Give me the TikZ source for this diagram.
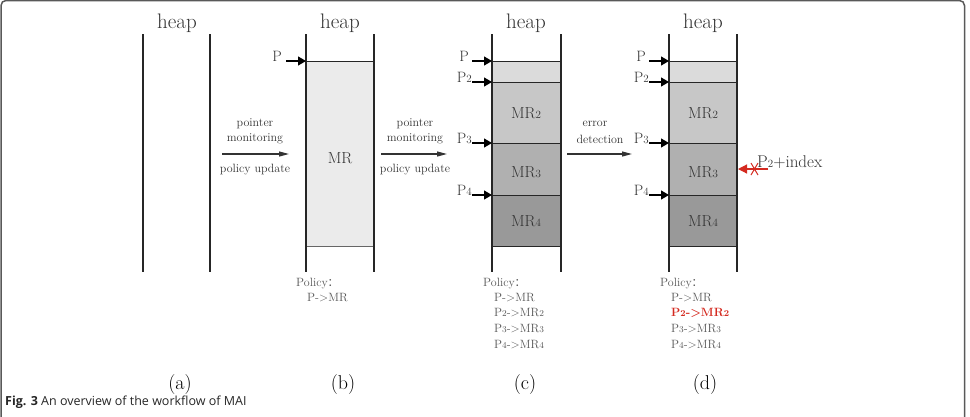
\documentclass[tikz,border=0pt]{standalone}
\usepackage{fontspec}
\setsansfont{Open Sans}
\newfontfamily\cjk{Noto Sans CJK SC}
\usetikzlibrary{arrows.meta}
\definecolor{txt}{HTML}{333333}
\definecolor{pol}{HTML}{555555}
\definecolor{redc}{HTML}{D42A20}
\newcommand{\sbn}[1]{{\fontsize{9}{9}\selectfont #1}}
\newcommand{\sbm}[1]{{\fontsize{11}{11}\selectfont #1}}
\newcommand{\fwcolon}{{\cjk\fontsize{11}{11}\selectfont ：}}
\begin{document}
\begin{tikzpicture}[x=1pt,y=-1pt,
  wall/.style={line width=1.2pt, draw=black!85},
  ptr/.style={line width=1.2pt, draw=black, -{Triangle[length=8pt,width=9pt]}},
  trans/.style={line width=1.2pt, draw=black!80, -{Triangle[length=10pt,width=5pt]}},
  heaplbl/.style={font=\fontsize{21}{21}\selectfont, text=txt, anchor=base},
  small/.style={font=\fontsize{12}{12}\selectfont, text=txt},
  plbl/.style={font=\fontsize{15}{15}\selectfont, text=txt, anchor=base east, inner sep=0pt},
  mrlbl/.style={font=\fontsize{16}{16}\selectfont, text=txt},
  cell/.style={draw=black!85, line width=0.9pt},
  policy/.style={font=\fontsize{12}{15.7}\selectfont, text=pol, align=left, anchor=north west, inner sep=0pt},
  sublbl/.style={font=\fontsize{20}{20}\selectfont, text=black, anchor=base},
]
\useasboundingbox (0,0) rectangle (970,416);
\draw[draw=black!65, line width=1.5pt, rounded corners=5pt] (1,0.5) rectangle (964.5,440);

% ---------- (a)
\node[heaplbl] (ha) at (177,28) {heap};
\draw[wall] (143,34) -- (143,272);
\draw[wall] (210,34) -- (210,272);
\node[sublbl] (la) at (180,389) {(a)};

% ---------- (b)
\node[heaplbl] (hb) at (340,28) {heap};
\fill[black!8] (306,61) rectangle (374,246);
\draw[cell, draw=black!60] (306,246) -- (374,246);
\draw[cell] (306,61) -- (374,61);
\draw[wall] (306,34) -- (306,272);
\draw[wall] (374,34) -- (374,272);
\node[mrlbl] (mrb) at (340,158) {MR};
\coordinate (pbs) at (286,61);
\draw[ptr] (pbs) -- (306,61);
\node[plbl] (pb) at ([xshift=-4pt]pbs) {P};
\node[policy] (polb) at (296,278) {Policy\fwcolon\\[-1pt]\hspace*{11pt}P->MR};
\node[sublbl] (lb) at (343,389) {(b)};

% transition a->b
\coordinate (t1s) at (222,154);
\coordinate (t1e) at (289,154);
\draw[trans] (t1s) -- (t1e);
\node[small] (t1a) at (255,124) {pointer};
\node[small] (t1b) at (255,139) {monitoring};
\node[small] (t1c) at (255,170) {policy update};

% ---------- (c)
\node[heaplbl] (hc) at (526,28) {heap};
\filldraw[cell, fill=black!14] (492,61) rectangle (561,82);
\filldraw[cell, fill=black!22] (492,82) rectangle (561,143);
\filldraw[cell, fill=black!31] (492,143) rectangle (561,195);
\filldraw[cell, fill=black!40] (492,195) rectangle (561,246);
\draw[wall] (492,34) -- (492,272);
\draw[wall] (561,34) -- (561,272);
\node[mrlbl] (mrc2) at (526,113) {MR\sbm{2}};
\node[mrlbl] (mrc3) at (526,172) {MR\sbm{3}};
\node[mrlbl] (mrc4) at (526,221) {MR\sbm{4}};
\coordinate (pc1) at (472,61);
\coordinate (pc2) at (472,82);
\coordinate (pc3) at (472,143);
\coordinate (pc4) at (472,195);
\draw[ptr] (pc1) -- (492,61);
\draw[ptr] (pc2) -- (492,82);
\draw[ptr] (pc3) -- (492,143);
\draw[ptr] (pc4) -- (492,195);
\node[plbl] (lc1) at ([xshift=-3pt]pc1) {P};
\node[plbl] (lc2) at (pc2) {P\sbm{2}};
\node[plbl] (lc3) at (pc3) {P\sbm{3}};
\node[plbl] (lc4) at (pc4) {P\sbm{4}};
\node[policy] (polc) at (483,278) {Policy\fwcolon\\[-1pt]
  \hspace*{11pt}P->MR\\
  \hspace*{11pt}P\sbn{2}->MR\sbn{2}\\
  \hspace*{11pt}P\sbn{3}->MR\sbn{3}\\
  \hspace*{11pt}P\sbn{4}->MR\sbn{4}};
\node[sublbl] (lc) at (525,389) {(c)};

% transition b->c
\coordinate (t2s) at (381,154);
\coordinate (t2e) at (447,154);
\draw[trans] (t2s) -- (t2e);
\node[small] (t2a) at (415,124) {pointer};
\node[small] (t2b) at (415,139) {monitoring};
\node[small] (t2c) at (415,170) {policy update};

% ---------- (d)
\node[heaplbl] (hd) at (703,28) {heap};
\filldraw[cell, fill=black!14] (669,61) rectangle (737,82);
\filldraw[cell, fill=black!22] (669,82) rectangle (737,143);
\filldraw[cell, fill=black!31] (669,143) rectangle (737,195);
\filldraw[cell, fill=black!40] (669,195) rectangle (737,246);
\draw[wall] (669,34) -- (669,272);
\draw[wall] (737,34) -- (737,272);
\node[mrlbl] (mrd2) at (703,113) {MR\sbm{2}};
\node[mrlbl] (mrd3) at (703,172) {MR\sbm{3}};
\node[mrlbl] (mrd4) at (703,221) {MR\sbm{4}};
\coordinate (pd1) at (649,61);
\coordinate (pd2) at (649,82);
\coordinate (pd3) at (649,143);
\coordinate (pd4) at (649,195);
\draw[ptr] (pd1) -- (669,61);
\draw[ptr] (pd2) -- (669,82);
\draw[ptr] (pd3) -- (669,143);
\draw[ptr] (pd4) -- (669,195);
\node[plbl] (ld1) at ([xshift=-3pt]pd1) {P};
\node[plbl] (ld2) at (pd2) {P\sbm{2}};
\node[plbl] (ld3) at (pd3) {P\sbm{3}};
\node[plbl] (ld4) at (pd4) {P\sbm{4}};
\node[policy] (pold) at (660,278) {Policy\fwcolon\\[-1pt]
  \hspace*{11pt}P->MR\\
  \hspace*{11pt}\textcolor{redc}{\bfseries P\sbn{2}->MR\sbn{2}}\\
  \hspace*{11pt}P\sbn{3}->MR\sbn{3}\\
  \hspace*{11pt}P\sbn{4}->MR\sbn{4}};
\node[sublbl] (ld) at (705,389) {(d)};

% transition c->d
\coordinate (t3s) at (567,154);
\coordinate (t3e) at (632,154);
\draw[trans] (t3s) -- (t3e);
\node[small] (t3a) at (595,124) {error};
\node[small] (t3b) at (600,139) {detection};

% red invalid pointer
\coordinate (rs) at (768,169);
\coordinate (re) at (738,169);
\draw[line width=1.2pt, draw=redc, -{Triangle[length=9pt,width=9pt]}] (rs) -- (re);
\draw[line width=1pt, draw=redc] (751,163) -- (758,175) (758,163) -- (751,175);
\node[font=\fontsize{17}{17}\selectfont, text=txt, anchor=base west, inner sep=0pt] (pidx) at (757,167) {P\sbm{2}+index};

% caption
\node[font=\sffamily\fontsize{12.5}{12.5}\selectfont, text=black!85, anchor=base west, inner sep=0pt] (cap) at (5,405) {\textbf{Fig. 3} An overview of the workflow of MAI};
\end{tikzpicture}
\end{document}
